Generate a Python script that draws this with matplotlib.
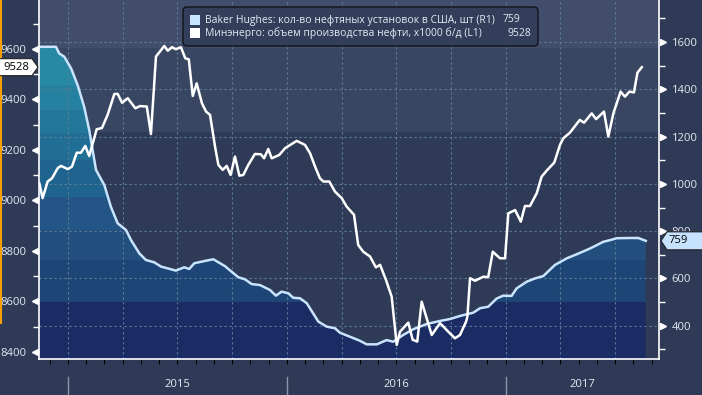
import matplotlib
matplotlib.use('Agg')
import numpy as np
import matplotlib.pyplot as plt
from matplotlib.patches import Polygon, FancyBboxPatch, Rectangle
from matplotlib.lines import Line2D
from matplotlib.transforms import IdentityTransform

plt.rcParams['font.family'] = ['Open Sans', 'DejaVu Sans']

# Baker Hughes oil rigs, right axis (decimal year, count)
rig_x = [2014.869, 2014.945, 2014.960, 2014.983, 2015.014, 2015.044, 2015.074, 2015.097,
         2015.128, 2015.166, 2015.196, 2015.227, 2015.265, 2015.288, 2015.326, 2015.356,
         2015.394, 2015.425, 2015.493, 2015.531, 2015.554, 2015.577, 2015.631, 2015.664,
         2015.717, 2015.778, 2015.809, 2015.839, 2015.877, 2015.923, 2015.950, 2015.976,
         2016.007, 2016.029, 2016.060, 2016.091, 2016.144, 2016.182, 2016.220, 2016.243,
         2016.289, 2016.334, 2016.365, 2016.411, 2016.456, 2016.486, 2016.532, 2016.578,
         2016.639, 2016.700, 2016.745, 2016.791, 2016.852, 2016.883, 2016.920, 2016.959,
         2016.989, 2017.027, 2017.050, 2017.096, 2017.134, 2017.172, 2017.225, 2017.279,
         2017.324, 2017.377, 2017.408, 2017.446, 2017.477, 2017.507, 2017.568, 2017.606,
         2017.640]
rig_count = [1580, 1580, 1552, 1538, 1489, 1418, 1326, 1228,
             1059, 995, 903, 833, 805, 762, 706, 678,
             668, 650, 633, 647, 640, 664, 675, 681,
             652, 605, 596, 576, 572, 551, 527, 544,
             537, 518, 516, 495, 417, 396, 389, 370,
             353, 336, 321, 321, 339, 332, 361, 385,
             407, 420, 428, 441, 455, 474, 480, 515,
             527, 526, 558, 586, 600, 610, 657, 685,
             702, 723, 737, 755, 762, 770, 771, 771,
             759]

# EIA crude output, left axis (decimal year, x1000 b/d)
oil_x = [2014.869, 2014.884, 2014.907, 2014.927, 2014.953, 2014.968, 2014.999, 2015.018,
         2015.040, 2015.059, 2015.079, 2015.097, 2015.131, 2015.155, 2015.181, 2015.212,
         2015.227, 2015.247, 2015.273, 2015.308, 2015.329, 2015.360, 2015.379, 2015.402,
         2015.440, 2015.456, 2015.475, 2015.493, 2015.516, 2015.536, 2015.552, 2015.570,
         2015.588, 2015.612, 2015.631, 2015.649, 2015.672, 2015.687, 2015.707, 2015.725,
         2015.743, 2015.763, 2015.783, 2015.801, 2015.824, 2015.854, 2015.881, 2015.896,
         2015.915, 2015.931, 2015.965, 2015.992, 2016.045, 2016.083, 2016.106, 2016.129,
         2016.151, 2016.167, 2016.194, 2016.220, 2016.251, 2016.273, 2016.307, 2016.326,
         2016.349, 2016.380, 2016.407, 2016.426, 2016.453, 2016.479, 2016.502, 2016.517,
         2016.555, 2016.575, 2016.596, 2016.616, 2016.662, 2016.700, 2016.738, 2016.768,
         2016.791, 2016.819, 2016.825, 2016.837, 2016.860, 2016.898, 2016.920, 2016.941,
         2016.974, 2016.997, 2017.012, 2017.043, 2017.069, 2017.088, 2017.111, 2017.142,
         2017.164, 2017.187, 2017.222, 2017.248, 2017.263, 2017.294, 2017.324, 2017.339,
         2017.358, 2017.393, 2017.413, 2017.449, 2017.469, 2017.492, 2017.525, 2017.545,
         2017.565, 2017.586, 2017.602, 2017.622]
oil_output = [9068, 9009, 9075, 9088, 9128, 9137, 9124, 9134,
              9189, 9189, 9216, 9176, 9282, 9287, 9339, 9422,
              9422, 9387, 9405, 9365, 9374, 9372, 9263, 9570,
              9612, 9593, 9607, 9599, 9607, 9563, 9559, 9414,
              9464, 9385, 9352, 9339, 9213, 9141, 9121, 9137,
              9101, 9174, 9098, 9101, 9141, 9184, 9183, 9167,
              9204, 9167, 9180, 9207, 9236, 9220, 9187, 9134,
              9088, 9075, 9075, 9035, 9009, 8976, 8943, 8824,
              8797, 8778, 8735, 8745, 8685, 8619, 8428, 8480,
              8516, 8448, 8441, 8599, 8467, 8514, 8480, 8454,
              8467, 8520, 8540, 8692, 8682, 8698, 8696, 8797,
              8771, 8771, 8949, 8962, 8916, 8978, 8978, 9029,
              9094, 9118, 9150, 9220, 9246, 9269, 9303, 9319,
              9308, 9345, 9322, 9352, 9253, 9345, 9431, 9411,
              9431, 9428, 9506, 9528]

years = [2015, 2016, 2017]
left_ticks = [8400, 8600, 8800, 9000, 9200, 9400, 9600]
right_ticks = [400, 600, 800, 1000, 1200, 1400, 1600]
legend_labels = ['Baker Hughes: кол-во нефтяных установок в США, шт (R1)',
                 'Минэнерго: объем производства нефти, x1000 б/д (L1)']
legend_values = ['759', '9528']

BG = '#2f3b56'
TXT = '#e4eaf2'
RIG_COLOR = '#c8e4ff'
GRID = '#5d7d97'


def main():
    fig = plt.figure(figsize=(7.02, 3.95), dpi=100, facecolor=BG)
    ax2 = fig.add_axes([39 / 702, 36 / 395, 620 / 702, 359 / 395])
    ax = ax2.twinx()
    # put the left-axis series (white line) on top
    ax.yaxis.tick_left()
    ax2.yaxis.tick_right()
    ax.set_zorder(2)
    ax2.set_zorder(1)
    ax.patch.set_visible(False)
    ax2.patch.set_visible(True)
    ax2.set_facecolor(BG)

    x0, x1 = 2014.8675, 2017.7005
    ax.set_xlim(x0, x1)
    ax.set_ylim(8372, 9794)
    ax2.set_ylim(259, 1778)

    # background bands
    ax2.axhspan(1575, 1778, color='#414d6a', zorder=0, lw=0)
    ax2.axhspan(1219, 1575, color='#394662', zorder=0, lw=0)

    # banded fill under rig count
    edges = [1778, 1575, 1418, 1312, 1215, 1101, 944, 805, 678, 500, 259]
    cols = ['#2b90ac', '#2889a5', '#25819f', '#237899', '#216e94', '#1f648e',
            '#235686', '#234f7e', '#1d4676', '#1b2b64']
    yy = np.linspace(1778, 259, 800)
    img = np.zeros((len(yy), 1, 3))
    for i, v in enumerate(yy):
        k = np.searchsorted(-np.array(edges), -v, side='right') - 1
        k = min(max(k, 0), len(cols) - 1)
        img[i, 0] = matplotlib.colors.to_rgb(cols[k])
    verts = list(zip(rig_x, rig_count)) + [(rig_x[-1], 259), (rig_x[0], 259)]
    clip = Polygon(verts, closed=True, facecolor='none', edgecolor='none')
    ax2.add_patch(clip)
    im = ax2.imshow(img, extent=(x0, x1, 259, 1778), aspect='auto',
                    interpolation='nearest', origin='upper', zorder=1)
    im.set_clip_path(clip)
    ax2.set_xlim(x0, x1)
    ax2.set_ylim(259, 1778)

    # dotted grid
    for t in right_ticks:
        ax2.axhline(t, color=GRID, lw=0.8, ls=(0, (2, 2.5)), zorder=2)
    quarters = [y + q / 4 for y in [2015, 2016, 2017] for q in range(4)]
    quarters = [q for q in quarters if x0 < q < x1]
    for q in quarters:
        ax2.axvline(q, color=GRID, lw=0.8, ls=(0, (2, 2.5)), zorder=2)

    ax2.plot(rig_x, rig_count, color=RIG_COLOR, lw=1.8, zorder=3)
    ax.plot(oil_x, oil_output, color='white', lw=1.8, zorder=4)

    # spines
    for a in (ax, ax2):
        for s in a.spines.values():
            s.set_visible(False)
    ax.spines['left'].set_visible(True)
    ax.spines['bottom'].set_visible(True)
    ax2.spines['right'].set_visible(True)
    for s in (ax.spines['left'], ax.spines['bottom'], ax2.spines['right']):
        s.set_color('white')
        s.set_linewidth(1.2)

    # y ticks
    ax.set_yticks(left_ticks)
    ax.set_yticks([t + 100 for t in left_ticks], minor=True)
    ax.tick_params(axis='y', which='major', length=0, pad=9, colors=TXT, labelsize=8.1)
    ax.tick_params(axis='y', which='minor', length=4, width=1, color='white', direction='out')
    ax2.set_yticks(right_ticks)
    ax2.set_yticks([t - 100 for t in right_ticks] + [1700], minor=True)
    ax2.tick_params(axis='y', which='major', length=0, pad=9, colors=TXT, labelsize=8.1)
    ax2.tick_params(axis='y', which='minor', length=4, width=1, color='white', direction='out')
    ax.plot([-0.0065] * len(left_ticks), left_ticks, ls='none', marker='<', ms=5,
            color='white', transform=ax.get_yaxis_transform(), clip_on=False)
    ax2.plot([1.0065] * len(right_ticks), right_ticks, ls='none', marker='>', ms=5,
             color='white', transform=ax2.get_yaxis_transform(), clip_on=False)

    # x ticks (months), no labels
    months = [y + m / 12 for y in [2014, 2015, 2016, 2017] for m in range(12)]
    months = [m for m in months if x0 < m < x1]
    ax.set_xticks(months)
    ax.set_xticklabels([])
    ax.tick_params(axis='x', length=4, width=1, color='white', direction='out')

    # year labels and separators
    xt = ax.get_xaxis_transform()
    for y in years:
        ax.add_line(Line2D([y, y], [-0.05, -0.11], color='#8a97ab', lw=1,
                           transform=xt, clip_on=False))
        mid = (y + min(y + 1, x1)) / 2
        ax.text(mid, -0.072, str(y), transform=xt, ha='center', va='center',
                color=TXT, fontsize=8.1)

    # orange marker at left edge
    fig.add_artist(Line2D([0.75, 0.75], [395, 395 - 323], color='#f5a000', lw=1.5,
                          transform=IdentityTransform(), zorder=5))

    # legend box
    fig.add_artist(FancyBboxPatch((183, 395 - 46), 355, 39,
                                  boxstyle='round,pad=0,rounding_size=4',
                                  facecolor='#323e5a', edgecolor='#111418', lw=1,
                                  transform=IdentityTransform(), zorder=10))
    for i, (lab, val, c, vx) in enumerate(zip(legend_labels, legend_values,
                                              [RIG_COLOR, 'white'], [503, 508])):
        yc = 395 - (20 + 13 * i)
        fig.add_artist(Rectangle((190, yc - 5), 10, 10, facecolor=c, edgecolor='none',
                                 transform=IdentityTransform(), zorder=11))
        fig.text(205 / 702, yc / 395, lab, color=TXT, fontsize=7.5, va='center',
                 ha='left', zorder=11)
        fig.text(vx / 702, yc / 395, val, color=TXT, fontsize=7.5, va='center',
                 ha='left', zorder=11)

    # last-value tags
    fig.canvas.draw()
    yl = ax.transData.transform((0, oil_output[-1]))[1]
    tag = Polygon([(-2, yl - 8.5), (32, yl - 8.5), (38, yl), (32, yl + 8.5), (-2, yl + 8.5)],
                  closed=True, facecolor='white', edgecolor='#222222', lw=0.8,
                  transform=IdentityTransform(), zorder=12)
    fig.add_artist(tag)
    fig.text(16.5 / 702, yl / 395, str(oil_output[-1]), color='black', fontsize=8.1,
             ha='center', va='center', zorder=13)
    yr = ax2.transData.transform((0, rig_count[-1]))[1]
    tag2 = Polygon([(704, yr - 9), (667, yr - 9), (661, yr), (667, yr + 9), (704, yr + 9)],
                   closed=True, facecolor='#c6e2ff', edgecolor='#222222', lw=0.8,
                   transform=IdentityTransform(), zorder=12)
    fig.add_artist(tag2)
    fig.text(678.5 / 702, yr / 395, str(rig_count[-1]), color='black', fontsize=8.1,
             ha='center', va='center', zorder=13)

    fig.savefig('out.png', dpi=100, facecolor=BG)


if __name__ == "__main__":
    main()
